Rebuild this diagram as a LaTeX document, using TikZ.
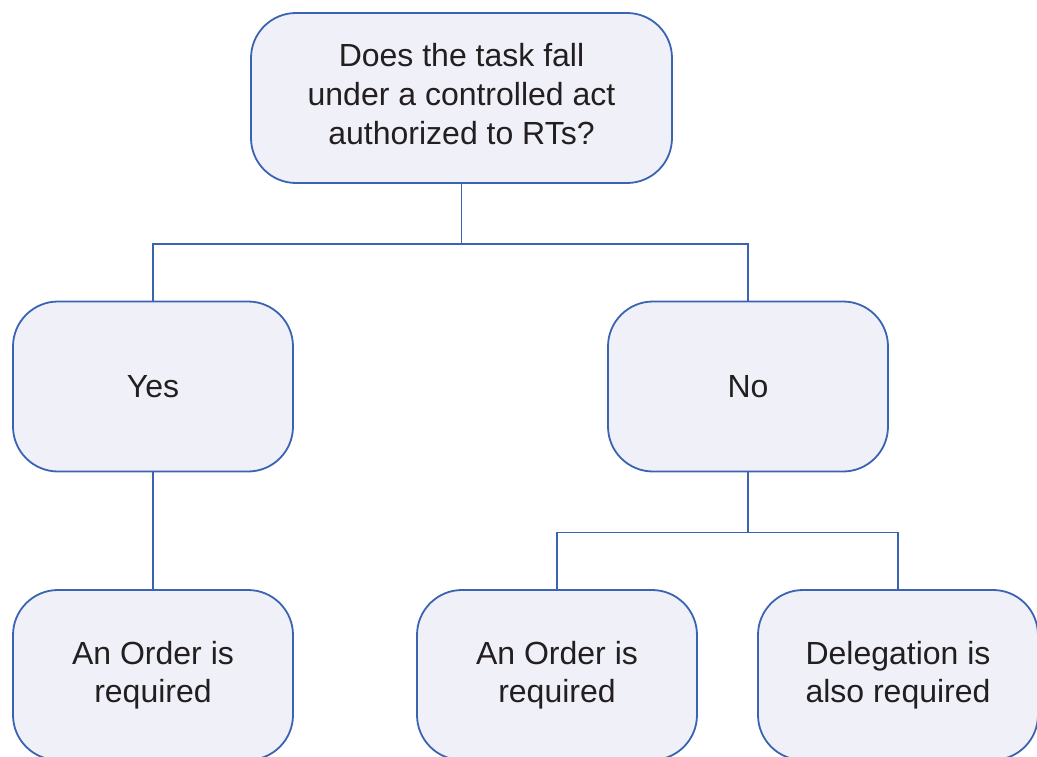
\documentclass[tikz,border=0pt]{standalone}
\usepackage{fontspec}
\setmainfont{Liberation Sans}
\definecolor{boxfill}{HTML}{EFF0F8}
\definecolor{boxline}{HTML}{3A64B2}
\definecolor{txt}{HTML}{231F20}
\begin{document}
\begin{tikzpicture}[x=1pt,y=-1pt,
  box/.style={draw=boxline,line width=1.8pt,fill=boxfill,rounded corners=45pt,
    minimum width=280pt,minimum height=170pt,align=center,text=txt,
    font=\fontsize{32}{38.5}\selectfont},
  link/.style={draw=boxline,line width=1.8pt}]
\useasboundingbox (0,0) rectangle (1037,756);
\clip (0,0) rectangle (1037,756);
\node[box,minimum width=421pt] (q) at (461.5,98) {\raisebox{13pt}{\begin{tabular}{@{}c@{}}Does the task fall\\[0.5pt]under a controlled act\\[0.5pt]authorized to RTs?\end{tabular}}};
\node[box] (yes) at (153,386.5) {Yes};
\node[box] (no) at (748,386.5) {No};
\node[box] (o1) at (153,675) {An Order is\\required};
\node[box] (o2) at (557,675) {An Order is\\required};
\node[box] (del) at (898,675) {Delegation is\\also required};
\draw[link] (q.south) -- ++(0,60) coordinate (j1) -| (yes.north);
\draw[link] (j1) -| (no.north);
\draw[link] (yes.south) -- (o1.north);
\draw[link] (no.south) -- ++(0,60) coordinate (j2) -| (o2.north);
\draw[link] (j2) -| (del.north);
\end{tikzpicture}
\end{document}
